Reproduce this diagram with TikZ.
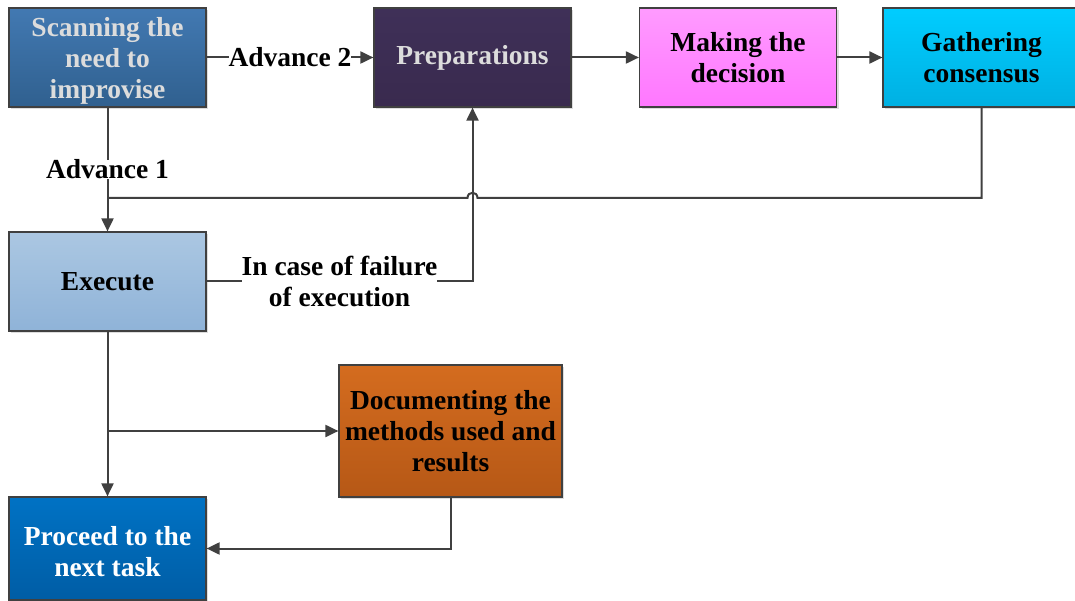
\documentclass[tikz,border=0pt]{standalone}
\usepackage{fontspec}
\setmainfont{Liberation Serif}
\usetikzlibrary{arrows.meta,shadows}

\definecolor{lineC}{HTML}{404040}
\definecolor{scanT}{HTML}{4279B2}
\definecolor{scanB}{HTML}{30608F}
\definecolor{prepT}{HTML}{3F3058}
\definecolor{prepB}{HTML}{392A4E}
\definecolor{makeT}{HTML}{FF9BFF}
\definecolor{makeB}{HTML}{FF77FF}
\definecolor{gathT}{HTML}{00CDFF}
\definecolor{gathB}{HTML}{00B0E2}
\definecolor{execT}{HTML}{ABC7E2}
\definecolor{execB}{HTML}{8FB3D8}
\definecolor{docT}{HTML}{D46C1F}
\definecolor{docB}{HTML}{B65816}
\definecolor{procT}{HTML}{0072C4}
\definecolor{procB}{HTML}{005DA5}
\definecolor{paleText}{HTML}{DCDCDC}

% strut that lowers a multi-line text block a little
\newcommand{\lowerstrut}{\rule{0pt}{26pt}}

\tikzset{
  txt/.style={font=\bfseries\fontsize{27.5}{31}\selectfont},
  box/.style={txt, draw=lineC, line width=1.2pt, minimum width=197pt, minimum height=99pt,
    align=center, inner sep=2pt,
    drop shadow={shadow xshift=2pt, shadow yshift=-2pt, fill=black!22, opacity=0.6}},
  shade2/.style 2 args={top color=#1, bottom color=#2},
  link/.style={draw=lineC, line width=2pt},
  conn/.style={link, -{Triangle[length=13pt,width=12pt]}},
  lbl/.style={txt, fill=white, inner sep=0pt, align=center}
}

\begin{document}
\begin{tikzpicture}[x=1pt,y=-1pt]
\useasboundingbox (0,0) rectangle (1075,601);

% process boxes
\node[box, shade2={scanT}{scanB}, text=paleText] (scan) at (107.5,57.5) {\lowerstrut Scanning the\\need to\\improvise};
\node[box, shade2={prepT}{prepB}, text=paleText] (prep) at (472.5,57.5) {Preparations};
\node[box, shade2={makeT}{makeB}] (make) at (738,57.5) {Making the\\decision};
\node[box, shade2={gathT}{gathB}] (gath) at (981.5,57.5) {Gathering\\consensus};
\node[box, shade2={execT}{execB}] (exec) at (107.5,281.5) {Execute};
\node[box, shade2={docT}{docB}, minimum width=223pt, minimum height=132pt] (doc) at (450.5,431) {Documenting the\\methods used and\\results};
\node[box, shade2={procT}{procB}, text=white, minimum height=103pt] (proc) at (107.5,548.5) {\lowerstrut Proceed to the\\next task};

% junction points
\coordinate (gturn) at (gath.south |- 0,198);
\coordinate (hopR) at ([xshift=5pt]prep.south |- 0,198);
\coordinate (hopL) at ([xshift=-5pt]prep.south |- 0,198);
\coordinate (join1) at (scan.south |- 0,198);
\coordinate (join2) at (exec.south |- doc.west);

% top row
\draw[conn] (scan.east) -- node[lbl]{Advance 2} (prep.west);
\draw[conn] (prep.east) -- (make.west);
\draw[conn] (make.east) -- (gath.west);

% down to execution
\draw[conn] (scan.south) -- node[lbl, pos=0.5]{Advance 1} (exec.north);

% feedback from consensus, hopping over the failure line
\draw[link] (gath.south) -- (gturn) -- (hopR)
  .. controls ([yshift=7pt]hopR) and ([yshift=7pt]hopL) .. (hopL) -- (join1);

% failure path back to preparations
\draw[conn] (exec.east) -- node[lbl]{In case of failure\\of execution} (prep.south |- exec.east) -- (prep.south);

% after execution
\draw[conn] (exec.south) -- (proc.north);
\draw[conn] (join2) -- (doc.west);
\draw[conn] (doc.south) |- (proc.east);
\end{tikzpicture}
\end{document}
